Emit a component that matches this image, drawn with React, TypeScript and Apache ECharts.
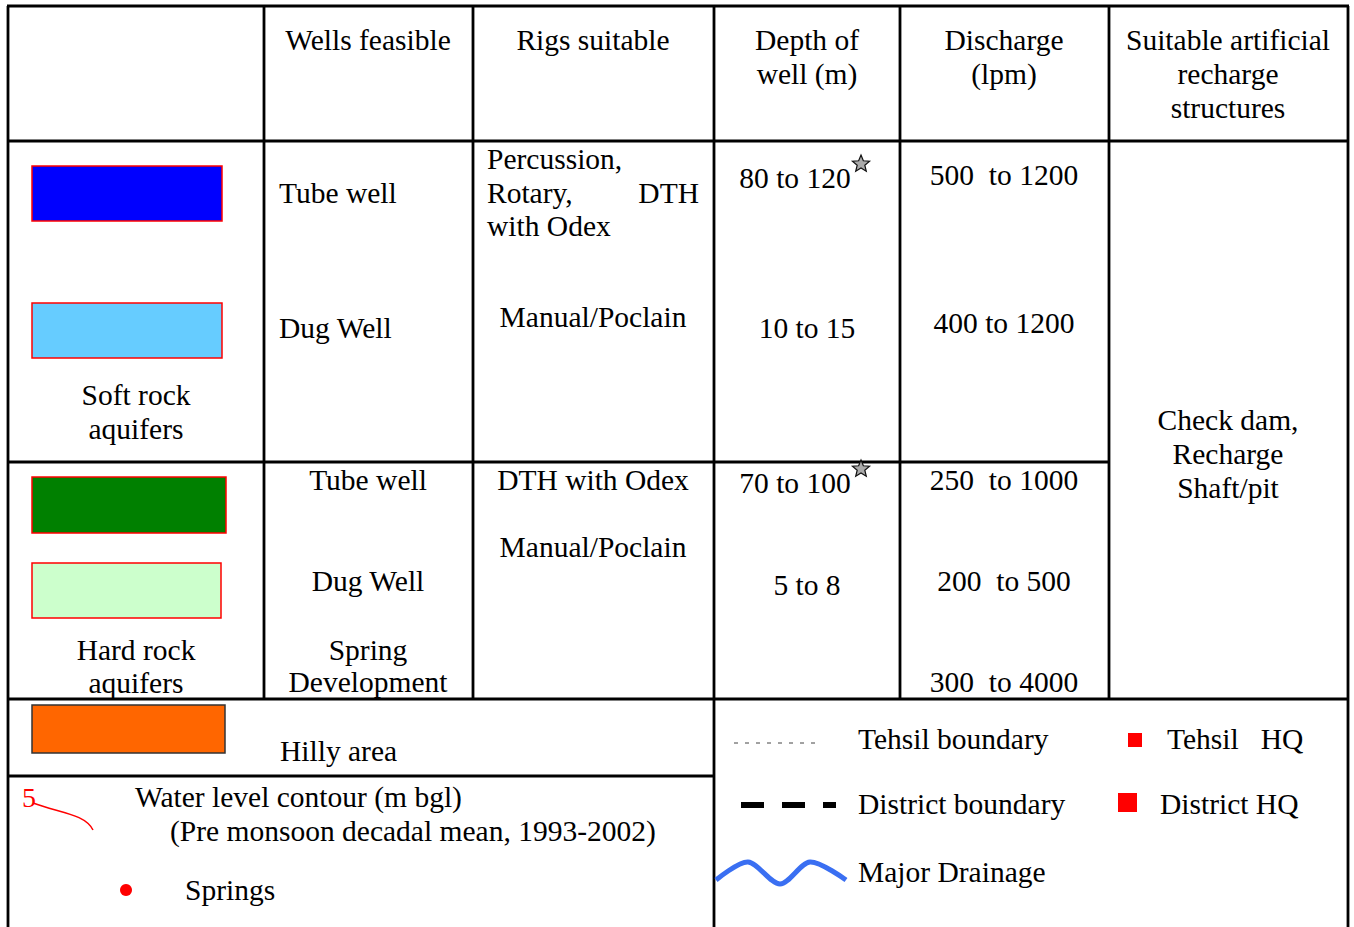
import React, { useEffect, useRef } from "react";
import * as echarts from "echarts";

// ---- data (texts of the legend table) ----
const HEADERS: string[][] = [
  ["Wells feasible"],
  ["Rigs suitable"],
  ["Depth of", "well (m)"],
  ["Discharge", "(lpm)"],
  ["Suitable artificial", "recharge", "structures"],
];
const AQUIFERS: string[][] = [["Soft rock", "aquifers"], ["Hard rock", "aquifers"]];
const SOFT_WELLS = ["Tube well", "Dug Well"];
const SOFT_RIGS: string[][] = [["Percussion,", "Rotary,", "DTH", "with Odex"], ["Manual/Poclain"]];
const SOFT_DEPTH = ["80 to 120", "10 to 15"];
const SOFT_DISCHARGE = ["500  to 1200", "400 to 1200"];
const HARD_WELLS: string[][] = [["Tube well"], ["Dug Well"], ["Spring", "Development"]];
const HARD_RIGS = ["DTH with Odex", "Manual/Poclain"];
const HARD_DEPTH = ["70 to 100", "5 to 8"];
const HARD_DISCHARGE = ["250  to 1000", "200  to 500", "300  to 4000"];
const RECHARGE = ["Check dam,", "Recharge", "Shaft/pit"];
const HILLY = "Hilly area";
const CONTOUR = ["5", "Water level contour (m bgl)", "(Pre monsoon decadal mean, 1993-2002)"];
const SPRINGS = "Springs";
const BOUNDARIES = ["Tehsil boundary", "District boundary", "Major Drainage"];
const HQS = ["Tehsil   HQ", "District HQ"];

const FONT = "Liberation Serif";

function txt(text: string, x: number, y: number, align = "left", size = 29.5, color = "#000") {
  return {
    type: "text",
    x,
    y,
    silent: true,
    style: {
      text,
      fill: color,
      fontFamily: FONT,
      fontSize: size,
      align,
      verticalAlign: "middle",
      textAlign: align,
      textVerticalAlign: "middle",
    },
  };
}

function star(cx: number, cy: number, R: number, r: number) {
  const pts: number[][] = [];
  for (let i = 0; i < 10; i++) {
    const a = -Math.PI / 2 + (i * Math.PI) / 5;
    const rad = i % 2 === 0 ? R : r;
    pts.push([cx + rad * Math.cos(a), cy + rad * Math.sin(a)]);
  }
  return {
    type: "polygon",
    silent: true,
    shape: { points: pts },
    style: { fill: "#aaa", stroke: "#111", lineWidth: 1.2 },
  };
}

function line(x1: number, y1: number, x2: number, y2: number, w = 2.8) {
  return {
    type: "line",
    silent: true,
    shape: { x1, y1, x2, y2 },
    style: { stroke: "#000", lineWidth: w },
  };
}

function box(x: number, y: number, w: number, h: number, fill: string, stroke = "#ff0000") {
  return {
    type: "rect",
    silent: true,
    shape: { x, y, width: w, height: h },
    style: { fill, stroke, lineWidth: 1.5 },
  };
}

export default function App() {
  const ref = useRef<HTMLDivElement>(null);
  useEffect(() => {
    if (!ref.current) return;
    const chart = echarts.init(ref.current, null, { renderer: "svg" });
    const els: any[] = [];

    const colCenters = [368, 593, 807, 1004, 1228];
    // grid lines
    els.push(line(8, 6, 8, 927));
    els.push(line(264, 6, 264, 699));
    els.push(line(473, 6, 473, 699));
    els.push(line(714, 6, 714, 927));
    els.push(line(900, 6, 900, 699));
    els.push(line(1109, 6, 1109, 699));
    els.push(line(1348, 6, 1348, 927));
    els.push(line(7, 6, 1349, 6));
    els.push(line(7, 141, 1349, 141));
    els.push(line(7, 462, 1109, 462));
    els.push(line(7, 699, 1349, 699));
    els.push(line(7, 776, 714, 776));

    // headers
    HEADERS.forEach((h, i) => {
      h.forEach((t, j) => els.push(txt(t, colCenters[i], 40 + j * 34, "center")));
    });

    // legend boxes
    els.push(box(32, 166, 190, 55, "#0000ff"));
    els.push(box(32, 303, 190, 55, "#66ccff"));
    els.push(box(32, 477, 194, 56, "#008000"));
    els.push(box(32, 563, 189, 55, "#ccffcc"));
    els.push(box(32, 705, 193, 48, "#ff6600", "#333"));

    // aquifer labels
    AQUIFERS[0].forEach((t, j) => els.push(txt(t, 136, 395 + j * 34, "center")));
    AQUIFERS[1].forEach((t, j) => els.push(txt(t, 136, 650 + j * 33, "center")));

    // soft rock rows
    els.push(txt(SOFT_WELLS[0], 279, 193));
    els.push(txt(SOFT_WELLS[1], 279, 328));
    els.push(txt(SOFT_RIGS[0][0], 487, 159));
    els.push(txt(SOFT_RIGS[0][1], 487, 193));
    els.push(txt(SOFT_RIGS[0][2], 699, 193, "right"));
    els.push(txt(SOFT_RIGS[0][3], 487, 226));
    els.push(txt(SOFT_RIGS[1][0], colCenters[1], 317, "center"));
    els.push(txt(SOFT_DEPTH[0], 795, 178, "center"));
    els.push(star(861, 164, 9, 4));
    els.push(txt(SOFT_DEPTH[1], colCenters[2], 328, "center"));
    els.push(txt(SOFT_DISCHARGE[0], colCenters[3], 175, "center"));
    els.push(txt(SOFT_DISCHARGE[1], colCenters[3], 323, "center"));

    // hard rock rows
    els.push(txt(HARD_WELLS[0][0], colCenters[0], 480, "center"));
    els.push(txt(HARD_WELLS[1][0], colCenters[0], 581, "center"));
    els.push(txt(HARD_WELLS[2][0], colCenters[0], 650, "center"));
    els.push(txt(HARD_WELLS[2][1], colCenters[0], 682, "center"));
    els.push(txt(HARD_RIGS[0], colCenters[1], 480, "center"));
    els.push(txt(HARD_RIGS[1], colCenters[1], 547, "center"));
    els.push(txt(HARD_DEPTH[0], 795, 483, "center"));
    els.push(star(861, 469, 9, 4));
    els.push(txt(HARD_DEPTH[1], colCenters[2], 585, "center"));
    els.push(txt(HARD_DISCHARGE[0], colCenters[3], 480, "center"));
    els.push(txt(HARD_DISCHARGE[1], colCenters[3], 581, "center"));
    els.push(txt(HARD_DISCHARGE[2], colCenters[3], 682, "center"));

    // recharge structures
    RECHARGE.forEach((t, j) => els.push(txt(t, colCenters[4], 420 + j * 34, "center")));

    // bottom-left legend
    els.push(txt(HILLY, 280, 751));
    els.push(txt(CONTOUR[0], 22, 797, "left", 28, "#ff0000"));
    els.push({
      type: "bezierCurve",
      silent: true,
      shape: { x1: 33, y1: 803, cpx1: 60, cpy1: 813, cpx2: 85, cpy2: 814, x2: 93, y2: 830 },
      style: { stroke: "#ff0000", lineWidth: 1.5, fill: "none" },
    });
    els.push(txt(CONTOUR[1], 135, 797));
    els.push(txt(CONTOUR[2], 170, 831));
    els.push({
      type: "circle",
      silent: true,
      shape: { cx: 126, cy: 890, r: 6 },
      style: { fill: "#ff0000" },
    });
    els.push(txt(SPRINGS, 185, 890));

    // bottom-right legend
    els.push({
      type: "line",
      silent: true,
      shape: { x1: 734, y1: 743, x2: 816, y2: 743 },
      style: { stroke: "#444", lineWidth: 1, lineDash: [4, 7] },
    });
    els.push(txt(BOUNDARIES[0], 858, 739));
    els.push({
      type: "line",
      silent: true,
      shape: { x1: 741, y1: 805, x2: 836, y2: 805 },
      style: { stroke: "#000", lineWidth: 6, lineDash: [23, 18] },
    });
    els.push(txt(BOUNDARIES[1], 858, 804));
    els.push({
      type: "polyline",
      silent: true,
      shape: {
        points: [[716, 880], [748, 862], [780, 884], [810, 862], [846, 880]],
        smooth: 0.3,
      },
      style: { stroke: "#3a6ff2", lineWidth: 5, fill: "none" },
    });
    els.push(txt(BOUNDARIES[2], 858, 872));
    els.push({
      type: "rect",
      silent: true,
      shape: { x: 1128, y: 733, width: 14, height: 14 },
      style: { fill: "#ff0000" },
    });
    els.push(txt(HQS[0], 1167, 739));
    els.push({
      type: "rect",
      silent: true,
      shape: { x: 1118, y: 793, width: 19, height: 19 },
      style: { fill: "#ff0000" },
    });
    els.push(txt(HQS[1], 1160, 804));

    chart.setOption({
      animation: false,
      backgroundColor: "#ffffff",
      graphic: { elements: els },
    });
    return () => chart.dispose();
  }, []);
  return (
    <div
      ref={ref}
      style={{ position: "fixed", left: 0, top: 0, width: 1354, height: 927, background: "#fff" }}
    />
  );
}
